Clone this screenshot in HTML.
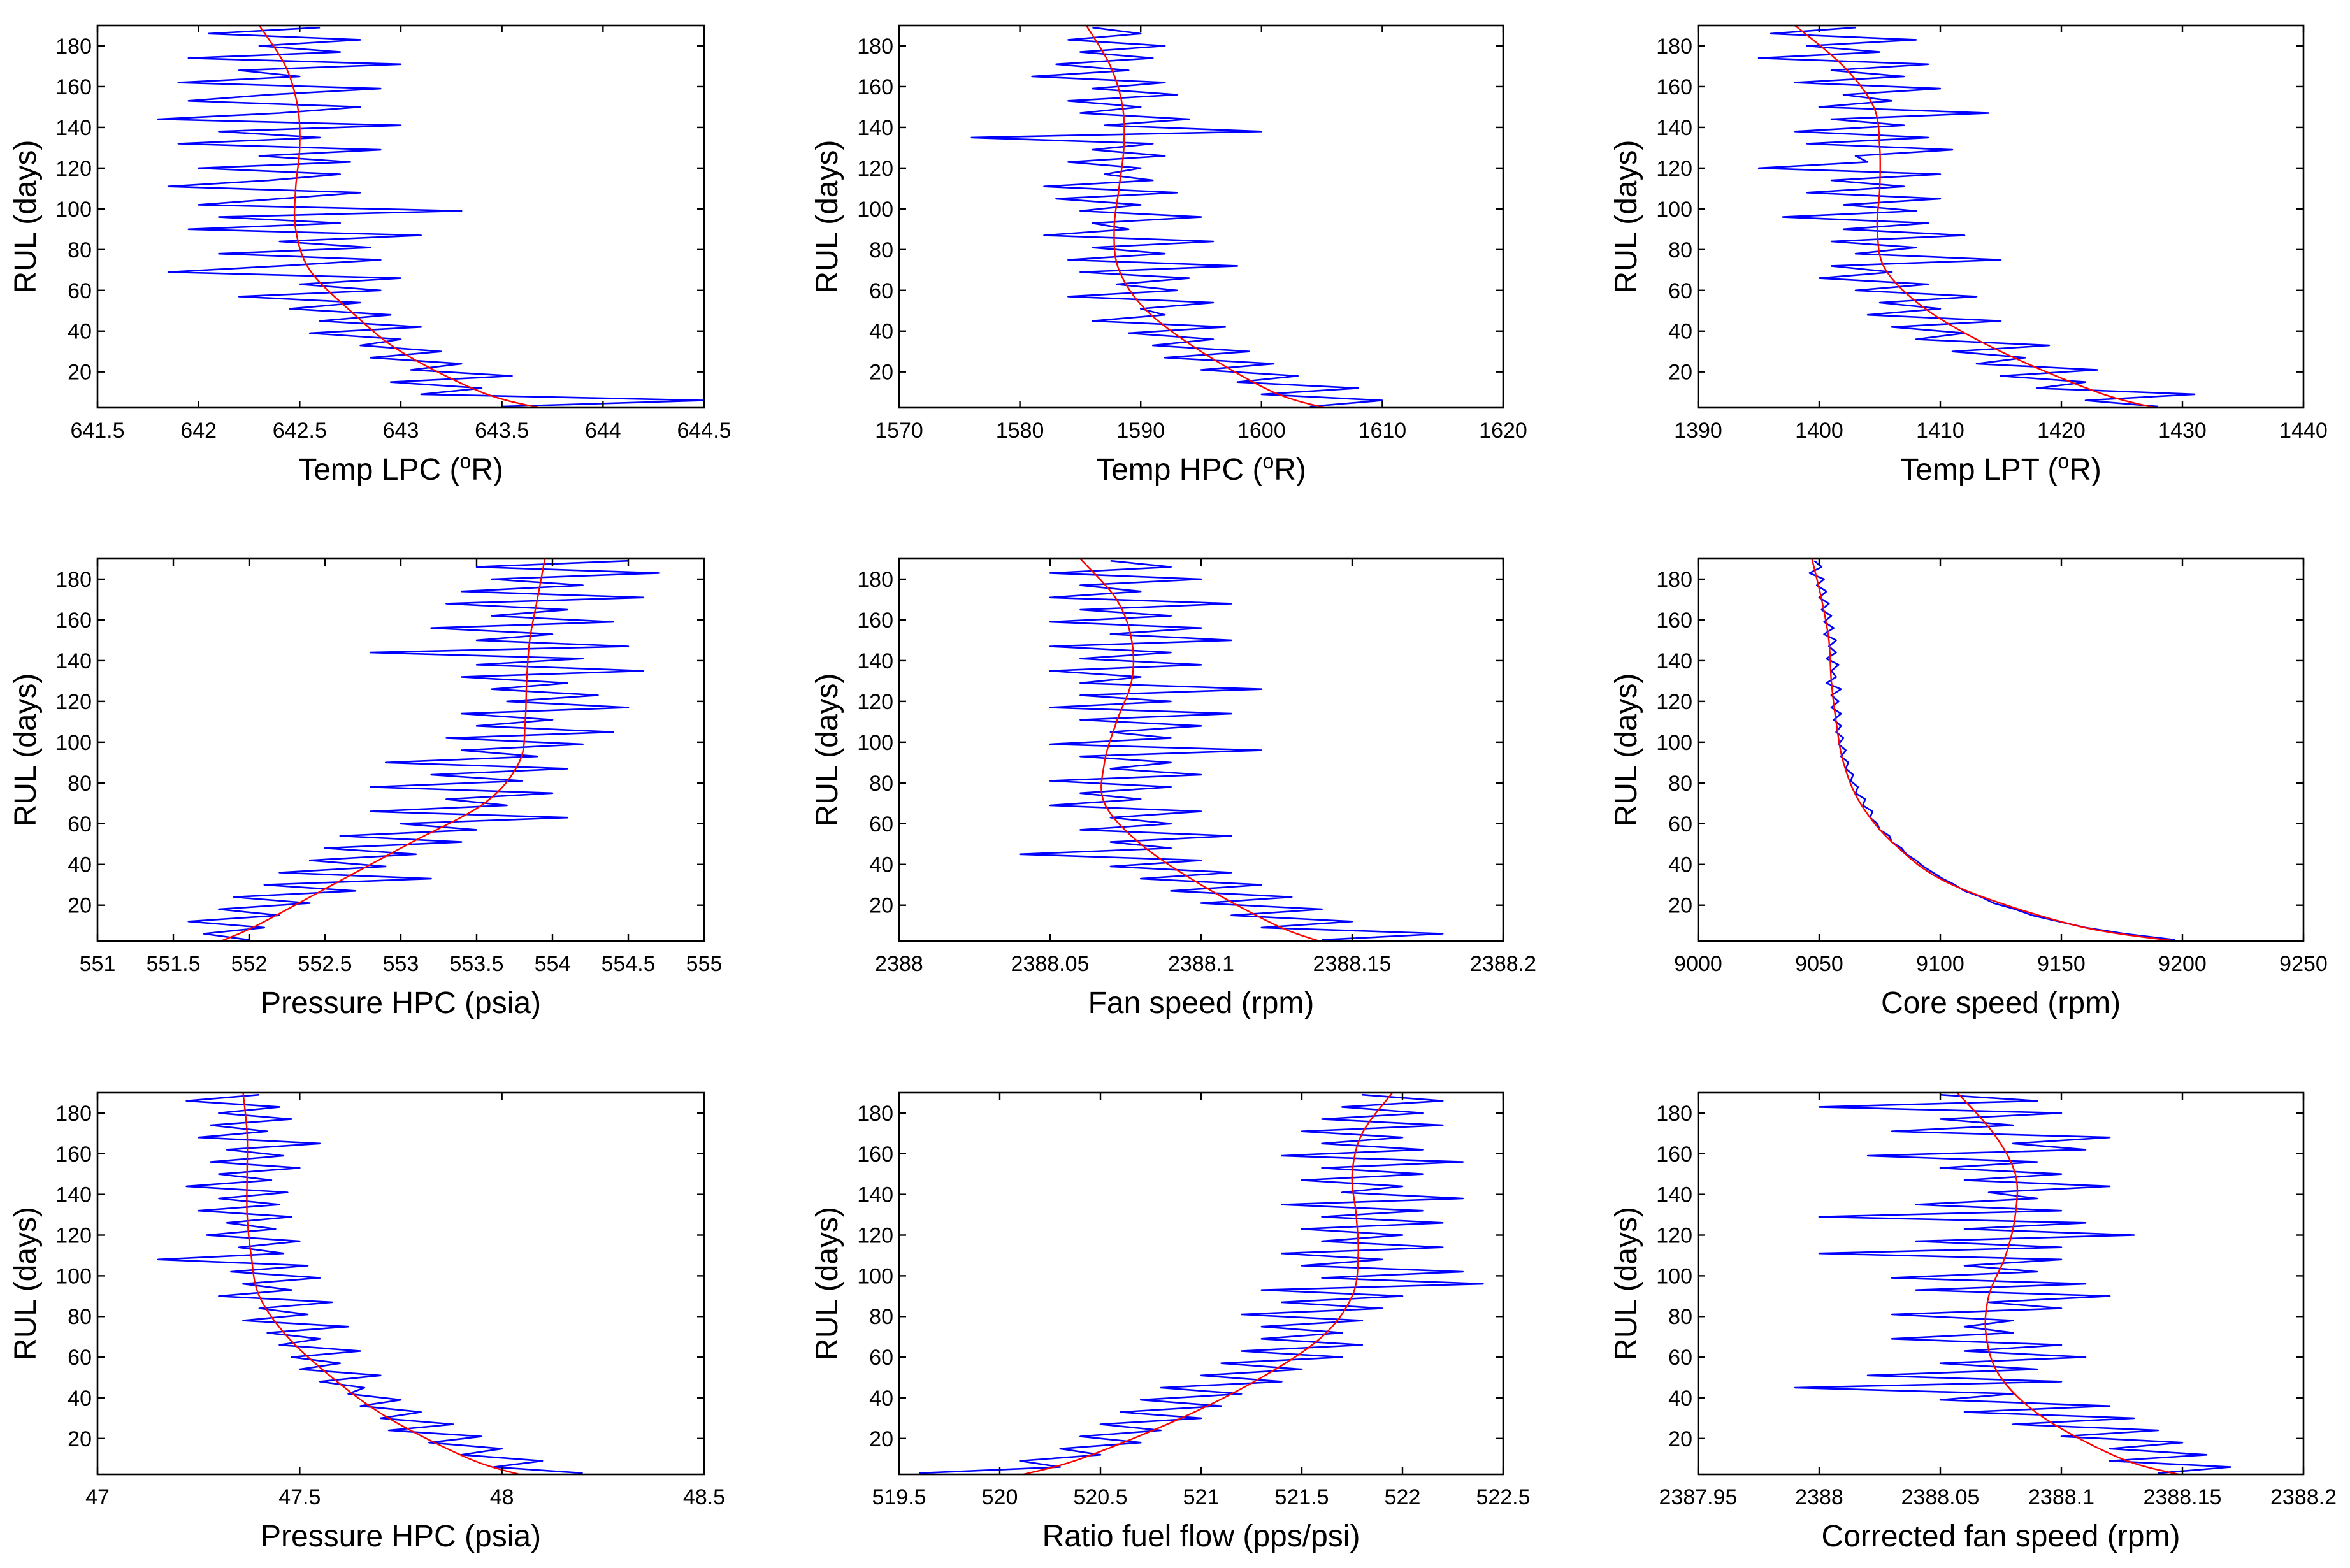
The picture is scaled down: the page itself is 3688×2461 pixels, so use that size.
<!DOCTYPE html>
<html><head><meta charset="utf-8">
<style>
html,body{margin:0;padding:0;background:#fff;}
svg{display:block;font-family:"Liberation Sans",sans-serif;}
</style></head>
<body>
<svg id="fig" width="3688" height="2461" viewBox="0 0 3688 2461" xmlns="http://www.w3.org/2000/svg"></svg>
<script>
const rul = [189,186,183,180,177,174,171,168,165,162,159,156,153,150,147,144,141,138,135,132,129,126,123,120,117,114,111,108,105,102,99,96,93,90,87,84,81,78,75,72,69,66,63,60,57,54,51,48,45,42,39,36,33,30,27,24,21,18,15,12,9,6,3];
const trendRul = [190,170,150,130,110,90,70,50,30,10,2];
const yTicks = [20,40,60,80,100,120,140,160,180];

const p1Values = [642.6,642.05,642.8,642.3,642.7,641.95,643.0,642.2,642.5,641.9,642.9,642.35,641.95,642.8,642.4,641.8,643.0,642.1,642.6,641.9,642.9,642.3,642.75,642.0,642.7,642.35,641.85,642.8,642.4,642.0,643.3,642.1,642.7,641.95,643.1,642.4,642.85,642.1,642.9,642.4,641.85,643.0,642.5,642.9,642.2,642.8,642.45,642.95,642.6,643.1,642.55,643.0,642.8,643.2,642.85,643.3,643.05,643.55,642.95,643.4,643.1,644.5,643.5];
const p1Trend = [642.3,642.43,642.49,642.5,642.48,642.48,642.55,642.75,643.0,643.4,643.7];
const p1Ticks = ["641.5","642","642.5","643","643.5","644","644.5"];

const p2Values = [1586,1590,1584,1592,1585,1591,1583,1589,1581,1592,1586,1593,1584,1590,1585,1594,1587,1600,1576,1591,1586,1592,1584,1590,1587,1591,1582,1593,1583,1590,1585,1595,1586,1589,1582,1596,1586,1592,1584,1598,1585,1594,1588,1593,1584,1596,1590,1592,1586,1597,1589,1596,1591,1599,1592,1601,1595,1603,1598,1608,1600,1610,1604];
const p2Trend = [1585.5,1587.5,1588.5,1588.6,1588.2,1587.8,1588.2,1590.5,1595,1601,1605.5];
const p2Ticks = ["1570","1580","1590","1600","1610","1620"];

const p3Values = [1403,1396,1408,1399,1405,1395,1409,1401,1407,1398,1410,1402,1406,1400,1414,1401,1407,1398,1409,1399,1411,1403,1404,1395,1410,1401,1407,1399,1410,1402,1408,1397,1409,1402,1412,1401,1408,1403,1415,1401,1406,1400,1409,1403,1413,1405,1410,1404,1415,1406,1412,1408,1419,1411,1417,1413,1423,1415,1422,1418,1431,1422,1428];
const p3Trend = [1398,1402,1404.5,1405,1405,1404.8,1405.5,1409,1415,1423,1428];
const p3Ticks = ["1390","1400","1410","1420","1430","1440"];

const p4Values = [554.5,553.5,554.7,553.6,554.2,553.4,554.6,553.3,554.1,553.6,554.4,553.2,554.0,553.5,554.5,552.8,554.2,553.5,554.6,553.4,554.1,553.6,554.3,553.7,554.5,553.4,554.0,553.5,554.4,553.3,554.2,553.4,553.9,552.9,554.1,553.2,553.8,552.8,554.0,553.3,553.7,552.8,554.1,553.0,553.5,552.6,553.4,552.5,553.1,552.4,552.9,552.2,553.2,552.1,552.7,551.9,552.4,551.8,552.2,551.6,552.1,551.7,552.0];
const p4Trend = [553.95,553.9,553.85,553.83,553.82,553.78,553.55,553.05,552.55,552.05,551.8];
const p4Ticks = ["551","551.5","552","552.5","553","553.5","554","554.5","555"];

const p5Values = [2388.07,2388.09,2388.05,2388.10,2388.06,2388.08,2388.05,2388.11,2388.06,2388.09,2388.05,2388.10,2388.07,2388.11,2388.05,2388.09,2388.06,2388.10,2388.05,2388.08,2388.06,2388.12,2388.06,2388.09,2388.05,2388.11,2388.06,2388.10,2388.07,2388.09,2388.05,2388.12,2388.06,2388.09,2388.07,2388.10,2388.05,2388.09,2388.06,2388.08,2388.05,2388.10,2388.07,2388.09,2388.06,2388.11,2388.07,2388.09,2388.04,2388.10,2388.07,2388.11,2388.08,2388.12,2388.09,2388.13,2388.10,2388.14,2388.11,2388.15,2388.12,2388.18,2388.14];
const p5Trend = [2388.06,2388.072,2388.077,2388.077,2388.072,2388.068,2388.068,2388.08,2388.1,2388.125,2388.14];
const p5Ticks = ["2388","2388.05","2388.1","2388.15","2388.2"];

const p6Values = [9048,9051,9046,9052,9049,9053,9050,9054,9051,9055,9052,9056,9052,9057,9054,9057,9053,9058,9055,9057,9053,9059,9055,9058,9055,9059,9056,9059,9057,9060,9058,9061,9059,9062,9061,9064,9063,9066,9065,9069,9068,9072,9071,9074,9075,9079,9080,9084,9086,9090,9093,9097,9101,9106,9110,9117,9122,9131,9138,9149,9160,9176,9197];
const p6Trend = [9047,9051,9054,9055,9057,9060,9067,9081,9105,9156,9200];
const p6Ticks = ["9000","9050","9100","9150","9200","9250"];

const p7Values = [47.40,47.22,47.45,47.30,47.48,47.28,47.42,47.25,47.55,47.32,47.46,47.28,47.50,47.30,47.43,47.22,47.47,47.30,47.45,47.25,47.48,47.32,47.44,47.27,47.50,47.35,47.46,47.15,47.52,47.33,47.55,47.36,47.48,47.30,47.58,47.40,47.52,47.36,47.62,47.42,47.55,47.45,47.65,47.48,47.60,47.50,47.70,47.55,47.66,47.62,47.75,47.65,47.80,47.70,47.88,47.72,47.95,47.82,48.0,47.9,48.1,47.98,48.2];
const p7Trend = [47.36,47.37,47.37,47.37,47.38,47.4,47.47,47.58,47.72,47.92,48.05];
const p7Ticks = ["47","47.5","48","48.5"];

const p8Values = [521.8,522.2,521.7,522.1,521.6,522.2,521.5,522.0,521.6,522.1,521.4,522.3,521.6,522.1,521.5,522.0,521.7,522.3,521.4,522.1,521.6,522.2,521.5,522.0,521.6,522.2,521.4,521.9,521.5,522.3,521.6,522.4,521.3,522.0,521.4,521.9,521.2,521.8,521.3,521.7,521.3,521.8,521.2,521.7,521.1,521.5,521.0,521.4,520.8,521.2,520.7,521.1,520.6,521.0,520.5,520.8,520.4,520.7,520.3,520.5,520.1,520.3,519.6];
const p8Trend = [521.95,521.8,521.75,521.77,521.78,521.75,521.6,521.3,520.9,520.4,520.1];
const p8Ticks = ["519.5","520","520.5","521","521.5","522","522.5"];

const p9Values = [2388.05,2388.09,2388.0,2388.10,2388.05,2388.08,2388.03,2388.12,2388.08,2388.11,2388.02,2388.09,2388.05,2388.10,2388.06,2388.12,2388.07,2388.09,2388.04,2388.10,2388.00,2388.11,2388.06,2388.13,2388.04,2388.10,2388.00,2388.10,2388.06,2388.09,2388.03,2388.11,2388.04,2388.12,2388.07,2388.10,2388.03,2388.08,2388.06,2388.08,2388.03,2388.10,2388.06,2388.11,2388.05,2388.09,2388.02,2388.10,2387.99,2388.08,2388.05,2388.12,2388.06,2388.13,2388.08,2388.14,2388.10,2388.15,2388.12,2388.16,2388.12,2388.17,2388.14];
const p9Trend = [2388.057,2388.072,2388.081,2388.081,2388.077,2388.07,2388.069,2388.075,2388.093,2388.125,2388.15];
const p9Ticks = ["2387.95","2388","2388.05","2388.1","2388.15","2388.2"];

const panels = [
 {name:'temp-lpc',vals:p1Values,trend:p1Trend,ticks:p1Ticks,label:'Temp LPC (<R>)',col:0,row:0},
 {name:'temp-hpc',vals:p2Values,trend:p2Trend,ticks:p2Ticks,label:'Temp HPC (<R>)',col:1,row:0},
 {name:'temp-lpt',vals:p3Values,trend:p3Trend,ticks:p3Ticks,label:'Temp LPT (<R>)',col:2,row:0},
 {name:'pressure-hpc',vals:p4Values,trend:p4Trend,ticks:p4Ticks,label:'Pressure HPC (psia)',col:0,row:1},
 {name:'fan-speed',vals:p5Values,trend:p5Trend,ticks:p5Ticks,label:'Fan speed (rpm)',col:1,row:1},
 {name:'core-speed',vals:p6Values,trend:p6Trend,ticks:p6Ticks,label:'Core speed (rpm)',col:2,row:1},
 {name:'pressure-hpc-2',vals:p7Values,trend:p7Trend,ticks:p7Ticks,label:'Pressure HPC (psia)',col:0,row:2},
 {name:'ratio-fuel-flow',vals:p8Values,trend:p8Trend,ticks:p8Ticks,label:'Ratio fuel flow (pps/psi)',col:1,row:2},
 {name:'corrected-fan-speed',vals:p9Values,trend:p9Trend,ticks:p9Ticks,label:'Corrected fan speed (rpm)',col:2,row:2}
];
const colL=[153,1411,2665], colR=[1105,2359,3615];
const rowT=[40,877,1715], rowB=[640,1477,2314];
const yMin=2.4, yMax=190;
const NS='http://www.w3.org/2000/svg';
const svg=document.getElementById('fig');
function mk(tag,attrs,parent){const e=document.createElementNS(NS,tag);for(const k in attrs)e.setAttribute(k,attrs[k]);(parent||svg).appendChild(e);return e;}

function catmull(pts){
  let d='M'+pts[0][0]+','+pts[0][1];
  for(let i=0;i<pts.length-1;i++){
    const p0=pts[Math.max(0,i-1)],p1=pts[i],p2=pts[i+1],p3=pts[Math.min(pts.length-1,i+2)];
    const c1=[p1[0]+(p2[0]-p0[0])/6,p1[1]+(p2[1]-p0[1])/6];
    const c2=[p2[0]-(p3[0]-p1[0])/6,p2[1]-(p3[1]-p1[1])/6];
    d+=' C'+c1[0].toFixed(1)+','+c1[1].toFixed(1)+' '+c2[0].toFixed(1)+','+c2[1].toFixed(1)+' '+p2[0].toFixed(1)+','+p2[1].toFixed(1);
  }
  return d;
}

panels.forEach(p=>{
  const L=colL[p.col],R=colR[p.col],T=rowT[p.row],B=rowB[p.row];
  const xMin=parseFloat(p.ticks[0]), xMax=parseFloat(p.ticks[p.ticks.length-1]);
  const sx=v=>L+(v-xMin)/(xMax-xMin)*(R-L);
  const sy=v=>B-(v-yMin)/(yMax-yMin)*(B-T);
  const g=mk('g',{});
  
  
  const cp='clip-'+p.name;
  const cl=mk('clipPath',{id:cp},g); mk('rect',{x:L,y:T,width:R-L,height:B-T},cl);
  let d='';
  const n=Math.min(rul.length,p.vals.length);
  for(let i=0;i<n;i++){d+=(i?' L':'M')+sx(p.vals[i]).toFixed(1)+','+sy(rul[i]).toFixed(1);}
  const line=mk('path',{d:d,fill:'none',stroke:'#0000ff','stroke-width':2.6,'stroke-linejoin':'round','clip-path':'url(#'+cp+')'},g);
  
  
  const tp=p.trend.map((v,i)=>[sx(v),sy(trendRul[i])]);
  const tr=mk('path',{d:catmull(tp),fill:'none',stroke:'#ff0000','stroke-width':2.4,'clip-path':'url(#'+cp+')'},g);
  
  
  const box=mk('rect',{x:L,y:T,width:R-L,height:B-T,fill:'none',stroke:'#000','stroke-width':2.6},g);
  
  
  yTicks.forEach(t=>{
    const y=sy(t);
    mk('line',{x1:L,x2:L+11,y1:y,y2:y,stroke:'#000','stroke-width':2.4},g);
    mk('line',{x1:R,x2:R-11,y1:y,y2:y,stroke:'#000','stroke-width':2.4},g);
    const tx=mk('text',{x:L-9,y:y+12,'text-anchor':'end','font-size':34},g);
    tx.textContent=t;
    
    
  });
  p.ticks.forEach(t=>{
    const x=sx(parseFloat(t));
    mk('line',{x1:x,x2:x,y1:B,y2:B-11,stroke:'#000','stroke-width':2.4},g);
    mk('line',{x1:x,x2:x,y1:T,y2:T+11,stroke:'#000','stroke-width':2.4},g);
    const tx=mk('text',{x:x,y:B+47,'text-anchor':'middle','font-size':34},g);
    tx.textContent=t;
    
    
  });
  const xl=mk('text',{x:(L+R)/2,y:B+113,'text-anchor':'middle','font-size':48},g);
  
  
  if(p.label.indexOf('<R>')>=0){
    const base=p.label.split(' (<R>)')[0];
    xl.appendChild(document.createTextNode(base+' ('));
    const s=mk('tspan',{dy:-18,'font-size':32},xl); s.textContent='o';
    const s2=mk('tspan',{dy:18},xl); s2.textContent='R)';
  } else xl.textContent=p.label;
  const cy=(T+B)/2, cx=L-97;
  const yl=mk('text',{x:cx,y:cy,'text-anchor':'middle','font-size':48,transform:'rotate(-90 '+cx+' '+cy+')'},g);
  yl.textContent='RUL (days)';
  
  
});
</script>
</body></html>
